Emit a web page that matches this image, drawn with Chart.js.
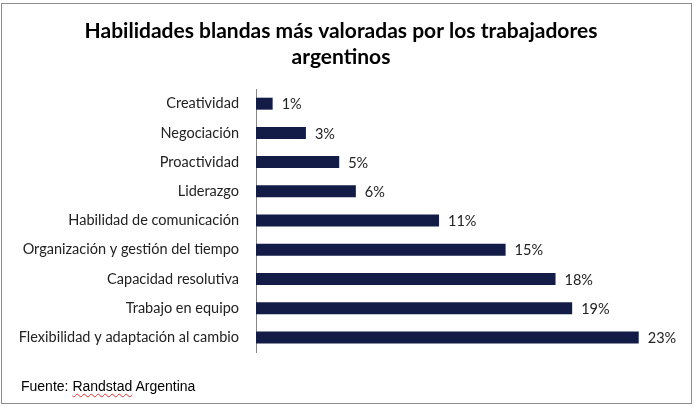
<!DOCTYPE html>
<html>
<head>
<meta charset="utf-8">
<script src="https://cdn.jsdelivr.net/npm/chart.js@4/dist/chart.umd.min.js"></script>
<style>
  body { margin: 0; background: #fff; }
  #wrap { position: relative; width: 694px; height: 407px; }
  #frame { position: absolute; left: 1px; top: 3px; width: 689px; height: 399px; border: 1px solid #8c8c8c; pointer-events: none; }
  #fuente { position: absolute; left: 21px; top: 378px; font-family: "Liberation Sans", Arial, sans-serif; font-size: 14px; color: #000; }
  #fuente span { text-decoration: underline wavy #e03030; text-decoration-thickness: 1px; text-underline-offset: 2px; }
</style>
</head>
<body>
<div id="wrap">
  <canvas id="mycanvas" width="694" height="407"></canvas>
  <div id="frame"></div>
  <div id="fuente">Fuente: <span>Randstad</span> Argentina</div>
</div>
<script>
// datos
var habilidades = [
  'Creatividad',
  'Negociación',
  'Proactividad',
  'Liderazgo',
  'Habilidad de comunicación',
  'Organización y gestión del tiempo',
  'Capacidad resolutiva',
  'Trabajo en equipo',
  'Flexibilidad y adaptación al cambio'
];
var porcentajes = [1, 3, 5, 6, 11, 15, 18, 19, 23];

var tituloLineas = ['Habilidades blandas más valoradas por los trabajadores', 'argentinos'];

// etiqueta con el % al final de cada barra
var etiquetas = {
  id: 'etiquetas',
  afterDatasetsDraw: function(chart) {
    var ctx = chart.ctx;
    var meta = chart.getDatasetMeta(0);
    ctx.save();
    ctx.font = '14.5px Lato';
    ctx.fillStyle = '#222';
    ctx.textAlign = 'left';
    ctx.textBaseline = 'middle';
    meta.data.forEach(function(bar, i) {
      ctx.fillText(porcentajes[i] + '%', bar.x + 9, bar.y + 1);
    });
    ctx.restore();
  }
};

var ctx = document.getElementById('mycanvas');
var mycanvas = new Chart(ctx, {
  type: 'bar',
  data: {
    labels: habilidades,
    datasets: [{
      data: porcentajes,
      backgroundColor: '#131c47',
      borderWidth: 0,
      barPercentage: 0.82,
      categoryPercentage: 0.5
    }]
  },
  options: {
    indexAxis: 'y',
    responsive: false,
    animation: false,
    events: [],
    layout: { padding: { top: 14, left: 10, right: 22, bottom: 55 } },
    plugins: {
      legend: { display: false },
      tooltip: { enabled: false },
      title: {
        display: true,
        text: tituloLineas,
        color: '#000',
        font: { family: 'Lato', size: 21, weight: 'bold', lineHeight: 1.24 },
        padding: { top: 4, bottom: 19 }
      }
    },
    scales: {
      x: { display: false, min: 0, max: 25 },
      y: {
        grid: { display: false },
        border: { display: true, color: '#868686', width: 1 },
        ticks: { color: '#222', padding: 9, font: { family: 'Lato', size: 14.5 } },
        afterFit: function(scale) { scale.width = 246; }
      }
    }
  },
  plugins: [etiquetas]
});
</script>
</body>
</html>
